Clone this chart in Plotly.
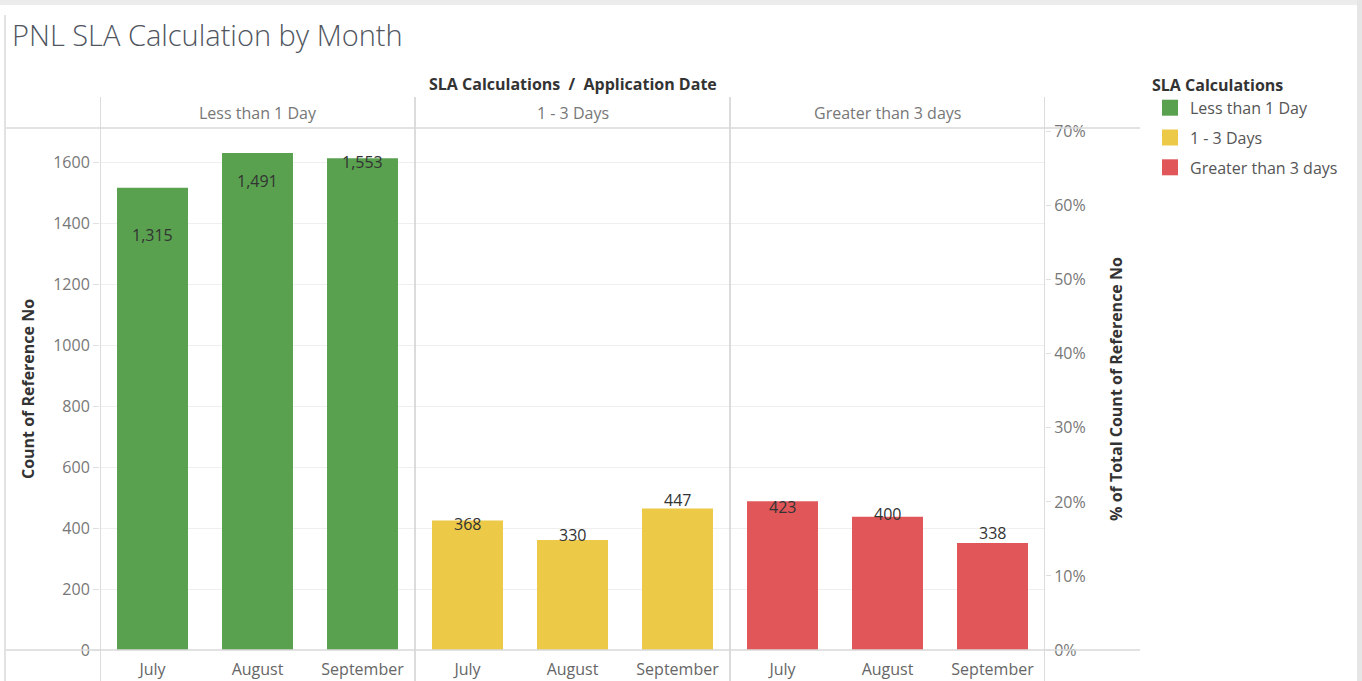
import plotly.graph_objects as go

# data
months = ["July", "August", "September"]
sla_groups = ["Less than 1 Day", "1 - 3 Days", "Greater than 3 days"]
less_than_1 = [1315, 1491, 1553]
one_to_three = [368, 330, 447]
greater_than_3 = [423, 400, 338]
group_colors = ["#59A14F", "#EDC948", "#E15759"]

left_ticks = [0, 200, 400, 600, 800, 1000, 1200, 1400, 1600]
right_ticks = [0, 0.1, 0.2, 0.3, 0.4, 0.5, 0.6, 0.7]

W, H = 1362, 681
L, R, T, B = 100, 1045, 128, 650  # plot area in pixels


def px_x(p):
    return (p - L) / (R - L)


def px_y(p):
    return (B - p) / (B - T)


series = [less_than_1, one_to_three, greater_than_3]
month_totals = [sum(s[i] for s in series) for i in range(len(months))]

FONT = "Open Sans"
fig = go.Figure()

annotations = []
for g, (name, vals, col) in enumerate(zip(sla_groups, series, group_colors)):
    xs = [g * len(months) + i for i in range(len(months))]
    pct = [v / t for v, t in zip(vals, month_totals)]
    fig.add_trace(go.Bar(
        x=xs, y=pct, name=name, yaxis="y2",
        marker=dict(color=col, line=dict(width=0)),
        width=0.676, legendgroup=name, showlegend=False,
        hoverinfo="skip",
    ))
    # legend entry with a bigger square swatch
    fig.add_trace(go.Scatter(
        x=[None], y=[None], mode="markers", name=name, legendgroup=name,
        marker=dict(symbol="square", size=20, color=col),
    ))
    # count labels sit on the left (count) axis, drawn above the bars
    for x, v in zip(xs, vals):
        annotations.append(dict(
            x=x, y=v, xref="x", yref="y", text=f"{v:,}", showarrow=False,
            yanchor="middle", yshift=14,
            font=dict(family=FONT, size=16, color="#333333"),
        ))

n = len(months) * len(sla_groups)
ticktext = months * len(sla_groups)

shapes = []
# pane dividers
for xv in [-0.5, 2.5, 5.5, 8.5]:
    shapes.append(dict(type="line", xref="x", yref="paper", x0=xv, x1=xv,
                       y0=px_y(681), y1=px_y(97), line=dict(color="#d0d0d0", width=1.5)))
# header bottom and axis base lines
for yv in [T, B]:
    shapes.append(dict(type="line", xref="paper", yref="paper", x0=px_x(5), x1=px_x(1140),
                       y0=px_y(yv), y1=px_y(yv), line=dict(color="#d8d8d8", width=1.5)))
# left frame line
shapes.append(dict(type="line", xref="paper", yref="paper", x0=px_x(5), x1=px_x(5),
                   y0=px_y(681), y1=px_y(15), line=dict(color="#e2e2e2", width=2)))
# outer page border
shapes.append(dict(type="rect", xref="paper", yref="paper", x0=px_x(0), x1=px_x(1362),
                   y0=px_y(5), y1=px_y(0), fillcolor="#ececec", line=dict(width=0), layer="below"))
shapes.append(dict(type="rect", xref="paper", yref="paper", x0=px_x(1357), x1=px_x(1362),
                   y0=px_y(681), y1=px_y(0), fillcolor="#e6e6e6", line=dict(width=0), layer="below"))

annotations.append(dict(text="<b>SLA Calculations  /  Application Date</b>", xref="paper", yref="paper",
                        x=0.5, y=px_y(84), yanchor="middle", showarrow=False,
                        font=dict(family=FONT, size=16, color="#333333")))
for g, name in enumerate(sla_groups):
    annotations.append(dict(text=name, xref="x", yref="paper", x=g * 3 + 1, y=px_y(113),
                            yanchor="middle", showarrow=False,
                            font=dict(family=FONT, size=16, color="#777777")))

fig.update_layout(
    width=W, height=H,
    margin=dict(l=L, r=W - R, t=T, b=H - B, autoexpand=False),
    paper_bgcolor="white", plot_bgcolor="white",
    font=dict(family=FONT, color="#777777", size=16),
    title=dict(text="PNL SLA Calculation by Month", xref="container", yref="container",
               x=12 / W, y=1 - 36 / H, xanchor="left", yanchor="middle",
               font=dict(family=FONT, size=29, color="#50555f", weight=300)),
    barmode="overlay",
    xaxis=dict(range=[-0.5, n - 0.5], tickvals=list(range(n)), ticktext=ticktext,
               showgrid=False, zeroline=False, showline=False, ticks="",
               ticklabelstandoff=8, tickfont=dict(size=16, color="#666666")),
    yaxis=dict(range=[0, 1712], tickvals=left_ticks, showgrid=True, gridcolor="#efefef",
               gridwidth=1, zeroline=False, showline=False, ticks="outside", ticklen=6,
               tickcolor="#e0e0e0", tickfont=dict(size=16, color="#777777"),
               title=dict(text="<b>Count of Reference No</b>", standoff=14,
                          font=dict(size=16, color="#333333"))),
    yaxis2=dict(range=[0, 0.705], tickvals=right_ticks, tickformat=".0%", overlaying="y",
                side="right", showgrid=False, zeroline=False, showline=False,
                ticks="outside", ticklen=5, tickcolor="#e0e0e0",
                tickfont=dict(size=16, color="#777777"),
                title=dict(text="<b>% of Total Count of Reference No</b>", standoff=26,
                           font=dict(size=16, color="#333333"))),
    legend=dict(title=dict(text="<b>SLA Calculations</b>", font=dict(size=16, color="#333333")),
                x=px_x(1150), y=px_y(70), xanchor="left", yanchor="top",
                font=dict(size=16, color="#555555"), bgcolor="rgba(0,0,0,0)",
                traceorder="grouped", tracegroupgap=6, itemwidth=30, itemsizing="trace",
                itemclick=False, itemdoubleclick=False),
    shapes=shapes,
    annotations=annotations,
)

fig.write_html("out.html", config={"displayModeBar": False},
               post_script="document.body.style.margin='0';")
